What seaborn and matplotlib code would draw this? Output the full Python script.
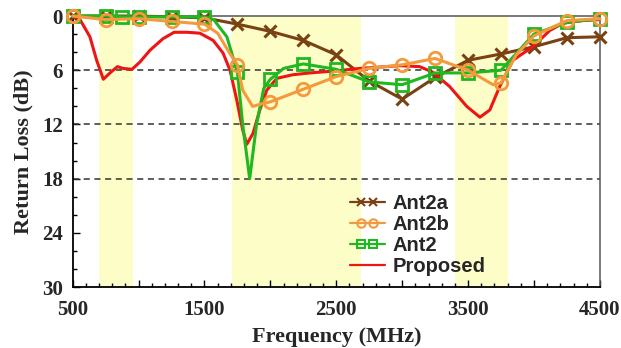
import numpy as np
import pandas as pd
import matplotlib
matplotlib.use("Agg")
import matplotlib.pyplot as plt
from matplotlib.lines import Line2D
from matplotlib.legend_handler import HandlerLine2DCompound
from matplotlib.ticker import MultipleLocator, FixedLocator
import seaborn as sns

# ---------------- data ----------------
ant2a_freq = [500, 750, 1000, 1250, 1500, 1750, 2000, 2250, 2500, 2750,
              3000, 3250, 3500, 3750, 4000, 4250, 4500]
ant2a_db = [0.0, 0.0, 0.0, 0.1, 0.2, 0.9, 1.7, 2.7, 4.3, 7.2,
            9.2, 6.8, 4.9, 4.2, 3.4, 2.4, 2.3]
ant2a_marks = ant2a_freq

ant2b_freq = [500, 750, 1000, 1250, 1500, 1600, 1690, 1750, 1790, 1865, 1940,
              2000, 2250, 2500, 2750, 3000, 3250, 3500, 3690, 3750, 3865,
              4000, 4250, 4500]
ant2b_db = [0.0, 0.4, 0.3, 0.6, 0.9, 1.9, 4.1, 5.4, 8.2, 10.0, 9.7,
            9.5, 8.1, 6.7, 5.8, 5.4, 4.7, 6.0, 7.6, 7.4, 4.3,
            2.2, 0.5, 0.3]
ant2b_marks = [500, 750, 1000, 1250, 1500, 1750, 2000, 2250, 2500, 2750,
               3000, 3250, 3500, 3750, 4000, 4250, 4500]

ant2_freq = [500, 750, 875, 1000, 1250, 1500, 1570, 1670, 1715, 1750, 1790,
             1843, 1895, 1950, 2000, 2100, 2250, 2500, 2750, 3000, 3250,
             3500, 3750, 4000, 4250, 4500]
ant2_db = [0.0, 0.0, 0.1, 0.1, 0.1, 0.1, 0.4, 2.3, 4.5, 6.2, 12.0,
           18.0, 12.0, 8.0, 7.0, 5.8, 5.3, 5.9, 7.3, 7.6, 6.3,
           6.3, 6.0, 2.0, 0.7, 0.3]
ant2_marks = [500, 750, 875, 1000, 1250, 1500, 1750, 2000, 2250, 2500, 2750,
              3000, 3250, 3500, 3750, 4000, 4250, 4500]

prop_freq = [500, 556, 631, 682, 733, 783, 840, 882, 950, 1010, 1086, 1186,
             1270, 1366, 1465, 1566, 1641, 1694, 1745, 1790, 1821, 1868,
             1920, 1973, 2049, 2170, 2300, 2475, 2680, 2980, 3132, 3230,
             3360, 3490, 3590, 3665, 3740, 3840, 3990, 4120, 4220, 4370, 4500]
prop_db = [0.0, 0.4, 2.3, 4.9, 7.0, 6.3, 5.6, 5.8, 5.9, 5.1, 3.8, 2.5,
           1.8, 1.8, 1.9, 2.7, 4.1, 6.0, 9.3, 12.6, 14.2, 13.0,
           10.4, 8.2, 6.9, 6.5, 6.3, 6.1, 5.8, 5.5, 5.6, 6.2,
           7.8, 10.0, 11.2, 10.4, 7.8, 4.9, 3.4, 1.6, 0.8, 0.5, 0.4]

bands = [(700, 960), (1710, 2690), (3400, 3800)]
grid_db = [6, 12, 18]
x_labels = ["500", "", "1500", "", "2500", "", "3500", "", "4500"]
x_major = [500, 1000, 1500, 2000, 2500, 3000, 3500, 4000, 4500]
y_major = [0, 6, 12, 18, 24, 30]

c_a = "#7a4112"
c_b = "#f59a3c"
c_g = "#1fb81f"
c_r = "#ee1515"

# ---------------- figure ----------------
sns.set_theme(style="white")
plt.rcParams["font.family"] = ["Liberation Serif", "DejaVu Serif"]

fig = plt.figure(figsize=(6.21, 3.48), dpi=100)
ax = fig.add_axes([0.117, 0.175, 0.849, 0.779])

for lo, hi in bands:
    ax.axvspan(lo, hi, color="#fdfdc8", zorder=0, lw=0)
for g in grid_db:
    ax.axhline(g, color="#333333", lw=1.1, ls=(0, (4, 3)), zorder=1)


def idx(freqs, marks):
    s = set(marks)
    return [i for i, f in enumerate(freqs) if f in s]


lw = 2.2
ms = 9
sns.lineplot(x=ant2a_freq, y=ant2a_db, ax=ax, color=c_a, lw=lw, sort=False,
             estimator=None, marker="x", markersize=ms, markeredgewidth=2.2,
             markeredgecolor=c_a, markevery=idx(ant2a_freq, ant2a_marks),
             legend=False, zorder=3, clip_on=False)
sns.lineplot(x=prop_freq, y=prop_db, ax=ax, color=c_r, lw=lw, sort=False,
             estimator=None, legend=False, zorder=4)
sns.lineplot(x=ant2_freq, y=ant2_db, ax=ax, color=c_g, lw=lw, sort=False,
             estimator=None, marker="s", markersize=ms - 1, markeredgewidth=2.0,
             markerfacecolor="none", markeredgecolor=c_g,
             markevery=idx(ant2_freq, ant2_marks), legend=False, zorder=5,
             clip_on=False)
sns.lineplot(x=ant2b_freq, y=ant2b_db, ax=ax, color=c_b, lw=lw, sort=False,
             estimator=None, marker="o", markersize=ms, markeredgewidth=2.0,
             markerfacecolor="none", markeredgecolor=c_b,
             markevery=idx(ant2b_freq, ant2b_marks), legend=False, zorder=6,
             clip_on=False)

ax.set_xlim(500, 4500)
ax.set_ylim(30, 0)

ax.xaxis.set_major_locator(FixedLocator(x_major))
ax.set_xticklabels(x_labels)
ax.xaxis.set_minor_locator(MultipleLocator(100))
ax.yaxis.set_major_locator(FixedLocator(y_major))
ax.yaxis.set_minor_locator(MultipleLocator(2))
ax.tick_params(axis="both", which="both", direction="in", top=False, right=False,
               bottom=True, left=True, color="black")
ax.tick_params(axis="both", which="major", length=5, width=1.0)
ax.tick_params(axis="both", which="minor", length=3, width=1.0)
ax.tick_params(axis="x", which="major", pad=9, labelsize=15)
ax.tick_params(axis="y", which="major", pad=7, labelsize=15)
for lab in ax.get_xticklabels() + ax.get_yticklabels():
    lab.set_fontweight("bold")

for side in ["left", "bottom"]:
    ax.spines[side].set_color("black")
    ax.spines[side].set_linewidth(1.3)
for side in ["top", "right"]:
    ax.spines[side].set_color("#555555")
    ax.spines[side].set_linewidth(1.1)

ax.set_xlabel("Frequency (MHz)", fontsize=16, fontweight="bold", labelpad=5)
ax.set_ylabel("Return Loss (dB)", fontsize=16, fontweight="bold", labelpad=6)


class CenterMarkers(HandlerLine2DCompound):
    """Line across the handle, two markers close together near its middle."""

    def get_xdata(self, legend, xdescent, ydescent, width, height, fontsize):
        xl = np.array([-xdescent + width * 0.08, -xdescent + width * 0.95])
        xm = np.array([-xdescent + width * 0.36, -xdescent + width * 0.66])
        return xl, xm


handles = [
    Line2D([], [], color=c_a, lw=1.6, marker="x", markersize=6, markeredgewidth=1.5),
    Line2D([], [], color=c_b, lw=1.6, marker="o", markersize=6, markeredgewidth=1.5,
           markerfacecolor="none"),
    Line2D([], [], color=c_g, lw=1.6, marker="s", markersize=5.5, markeredgewidth=1.5,
           markerfacecolor="none"),
    Line2D([], [], color=c_r, lw=1.6),
]
labels = ["Ant2a", "Ant2b", "Ant2", "Proposed"]
ax.legend(handles, labels, loc="upper left", bbox_to_anchor=(0.50, 0.38),
          frameon=False, handlelength=2.0, handletextpad=0.3,
          labelspacing=0.1, borderpad=0.0,
          handler_map={h: CenterMarkers(numpoints=2) for h in handles},
          prop={"family": "Liberation Sans", "weight": "bold", "size": 14.5})

fig.savefig("out.png", dpi=100)
